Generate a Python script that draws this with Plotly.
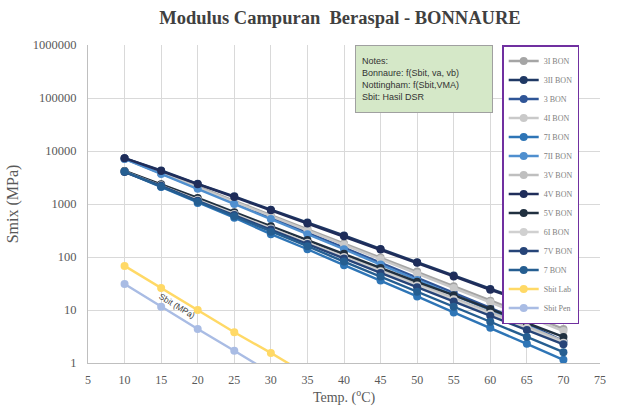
import plotly.graph_objects as go

temps = [10, 15, 20, 25, 30, 35, 40, 45, 50, 55, 60, 65, 70]

bon_names = ["3I BON", "3II BON", "3 BON", "4I BON", "7I BON", "7II BON",
             "3V BON", "4V BON", "5V BON", "6I BON", "7V BON", "7 BON"]
bon_colors = ["#A5A5A5", "#1F3864", "#2F5597", "#C9C9C9", "#2E75B6", "#4F8FCF",
              "#BFBFBF", "#1F2D5A", "#203040", "#D0D0D0", "#264478", "#255E91"]
bon_values = [
    [7200, 4000, 2150, 1150, 620, 340, 180, 98, 53, 28, 15, 8.2, 4.4],
    [7300, 4300, 2400, 1400, 780, 450, 255, 142, 80, 45, 25, 14.5, 8.0],
    [7200, 3800, 2000, 1050, 550, 290, 150, 78, 41, 21.5, 11, 5.5, 2.6],
    [7100, 3900, 2050, 1100, 590, 320, 170, 92, 49, 26, 14, 7.5, 4.0],
    [4100, 2100, 1050, 550, 270, 140, 70, 36, 18, 9, 4.6, 2.3, 1.15],
    [7100, 3700, 1950, 1000, 520, 270, 140, 72, 37, 19, 10, 5.1, 2.5],
    [4200, 2300, 1250, 680, 360, 195, 105, 57, 31, 17, 9, 4.9, 2.6],
    [7300, 4200, 2350, 1350, 760, 430, 245, 138, 78, 43, 24, 14, 7.7],
    [4200, 2350, 1300, 700, 380, 210, 115, 62, 34, 19, 10.5, 5.7, 3.1],
    [4100, 2250, 1200, 650, 345, 185, 100, 54, 29, 16, 8.5, 4.6, 2.4],
    [4000, 2200, 1150, 620, 330, 175, 94, 50, 27, 14.5, 7.8, 4.2, 2.25],
    [4100, 2150, 1100, 590, 300, 160, 82, 43, 22, 11.5, 6, 3.1, 1.6],
]

sbit_temps = [10, 15, 20, 25, 30, 35]
sbit_lab = [68, 26, 10, 3.8, 1.55, 0.6]
sbit_pen = [31, 11.5, 4.4, 1.7, 0.66, 0.25]

x_ticks = [5, 10, 15, 20, 25, 30, 35, 40, 45, 50, 55, 60, 65, 70, 75]
y_ticks = [1, 10, 100, 1000, 10000, 100000, 1000000]

fig = go.Figure()
for name, col, vals in zip(bon_names, bon_colors, bon_values):
    fig.add_trace(go.Scatter(x=temps, y=vals, name=name, mode="lines+markers",
                             line=dict(color=col, width=2.4),
                             marker=dict(color=col, size=8)))
fig.add_trace(go.Scatter(x=sbit_temps, y=sbit_lab, name="Sbit Lab", mode="lines+markers",
                         line=dict(color="#FFD966", width=2.4),
                         marker=dict(color="#FFD966", size=8)))
fig.add_trace(go.Scatter(x=sbit_temps, y=sbit_pen, name="Sbit Pen", mode="lines+markers",
                         line=dict(color="#A9BCE4", width=2.4),
                         marker=dict(color="#A9BCE4", size=8)))

serif = "Liberation Serif"
fig.update_layout(
    width=617, height=412,
    margin=dict(l=88, r=17, t=45, b=49),
    paper_bgcolor="white", plot_bgcolor="white",
    title=dict(text="<b>Modulus Campuran  Beraspal - BONNAURE</b>", x=0.551, xanchor="center",
               y=0.958, yanchor="middle", font=dict(family=serif, size=18.5, color="#404040")),
    showlegend=True,
    legend=dict(x=0.809, y=1, xanchor="left", yanchor="top",
                bordercolor="#7030A0", borderwidth=1.5, bgcolor="white",
                font=dict(family=serif, size=8, color="#808080"),
                tracegroupgap=0, itemwidth=30),
    xaxis=dict(range=[5, 75], tickvals=x_ticks, showgrid=True, gridcolor="#D9D9D9",
               showline=True, linecolor="#BFBFBF", zeroline=False, ticks="",
               ticklabelstandoff=6,
               tickfont=dict(family=serif, size=12, color="#595959"),
               title=dict(text="Temp. (<sup>o</sup>C)", font=dict(family=serif, size=14, color="#595959"),
                          standoff=4)),
    yaxis=dict(type="log", range=[0, 6], tickvals=y_ticks,
               ticktext=[str(v) for v in y_ticks], showgrid=True, gridcolor="#D9D9D9",
               showline=True, linecolor="#BFBFBF", ticks="",
               ticklabelstandoff=8,
               tickfont=dict(family=serif, size=12.5, color="#595959"),
               title=dict(text="Smix (MPa)", font=dict(family=serif, size=16, color="#595959"),
                          standoff=10)),
)

fig.add_annotation(x=17.2, y=1.08, xref="x", yref="y", text="Sbit (MPa)", showarrow=False,
                   textangle=31, font=dict(family="Liberation Sans", size=8.5, color="#404040"))

fig.add_annotation(x=(355 - 88) / 512, y=1, xref="paper", yref="paper", xanchor="left", yanchor="top",
                   text="Notes:<br>Bonnaure: f(Sbit, va, vb)<br>Nottingham: f(Sbit,VMA)<br>Sbit: Hasil DSR",
                   showarrow=False, align="left", bgcolor="#D5E8C8", bordercolor="#A0A0A0",
                   borderwidth=1, borderpad=6, width=124, height=54,
                   font=dict(family="Liberation Sans", size=9, color="#333333"))

fig.write_html("out.html")
